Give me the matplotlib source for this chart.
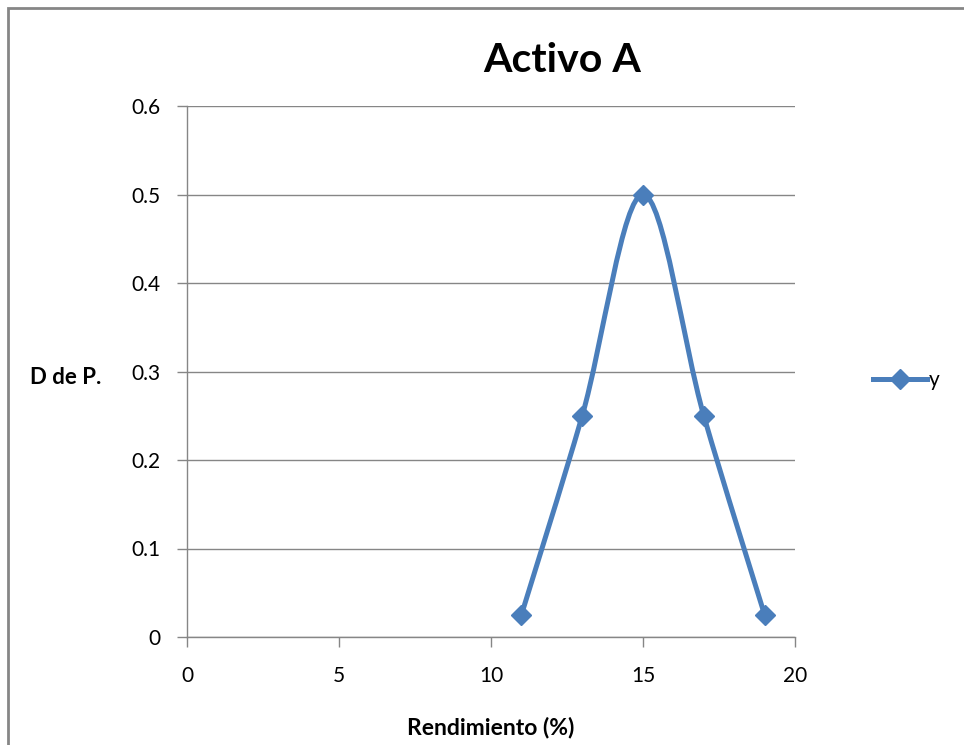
import matplotlib
matplotlib.use("Agg")
import matplotlib.pyplot as plt
from matplotlib.path import Path
from matplotlib.patches import PathPatch, Rectangle
from matplotlib.lines import Line2D

# data
rendimiento = [11, 13, 15, 17, 19]
prob = [0.025, 0.25, 0.5, 0.25, 0.025]
x_ticks = [0, 5, 10, 15, 20]
y_ticks = [0, 0.1, 0.2, 0.3, 0.4, 0.5, 0.6]
y_tick_labels = ["0", "0.1", "0.2", "0.3", "0.4", "0.5", "0.6"]

blue = "#4a7ebb"
gray = "#868686"
plt.rcParams['font.family'] = ['Lato', 'DejaVu Sans']


def smooth_path(xs, ys):
    # Excel-like smoothed line: cubic bezier through every point
    pts = list(zip(xs, ys))
    n = len(pts)
    verts = [pts[0]]
    codes = [Path.MOVETO]
    for i in range(n - 1):
        p0 = pts[i - 1] if i > 0 else pts[i]
        p1 = pts[i]
        p2 = pts[i + 1]
        p3 = pts[i + 2] if i + 2 < n else pts[i + 1]
        c1 = (p1[0] + (p2[0] - p0[0]) / 6, p1[1] + (p2[1] - p0[1]) / 6)
        c2 = (p2[0] - (p3[0] - p1[0]) / 6, p2[1] - (p3[1] - p1[1]) / 6)
        verts += [c1, c2, p2]
        codes += [Path.CURVE4] * 3
    return Path(verts, codes)


fig = plt.figure(figsize=(9.64, 7.45), dpi=100)
ax = fig.add_axes([187 / 964, 1 - 637 / 745, 608 / 964, 531 / 745])

# chart border (left and top only visible)
fig.patches.append(Rectangle((8 / 964, -0.1), 1.2, 1 - 8 / 745 + 0.1,
                             transform=fig.transFigure, fill=False,
                             edgecolor=gray, linewidth=2))

ax.set_xlim(0, 20)
ax.set_ylim(0, 0.6)
ax.set_xticks(x_ticks)
ax.set_yticks(y_ticks)
ax.set_yticklabels(y_tick_labels)
ax.yaxis.grid(True, color=gray, linewidth=1)
ax.set_axisbelow(True)
for s in ["top", "right"]:
    ax.spines[s].set_visible(False)
for s in ["left", "bottom"]:
    ax.spines[s].set_color(gray)
    ax.spines[s].set_linewidth(1)
ax.tick_params(axis="both", colors=gray, length=7, width=1, labelsize=15,
               labelcolor="black")
ax.tick_params(axis="y", pad=12)
ax.tick_params(axis="x", pad=14)

ax.add_patch(PathPatch(smooth_path(rendimiento, prob), facecolor="none",
                       edgecolor=blue, linewidth=3.6, capstyle="round",
                       joinstyle="round", zorder=3))
ax.plot(rendimiento, prob, linestyle="none", marker="D", markersize=10.5,
        color=blue, zorder=4, clip_on=False)

fig.text(562 / 964, 1 - 61 / 745, "Activo A", fontsize=29.5,
         fontweight="bold", ha="center", va="center")
fig.text(491 / 964, 1 - 728 / 745, "Rendimiento (%)", fontsize=16.5,
         fontweight="bold", ha="center", va="center")
fig.text(66 / 964, 1 - 378 / 745, "D de P.", fontsize=16,
         fontweight="bold", ha="center", va="center")

handle = Line2D([], [], color=blue, linewidth=3.6, marker="D",
                markersize=10.5)
fig.legend([handle], ["y"], loc="center left", frameon=False, fontsize=15,
           bbox_to_anchor=(854 / 964, 1 - 380 / 745), handlelength=2.6,
           handletextpad=0.1)

fig.savefig("out.png", dpi=100)
